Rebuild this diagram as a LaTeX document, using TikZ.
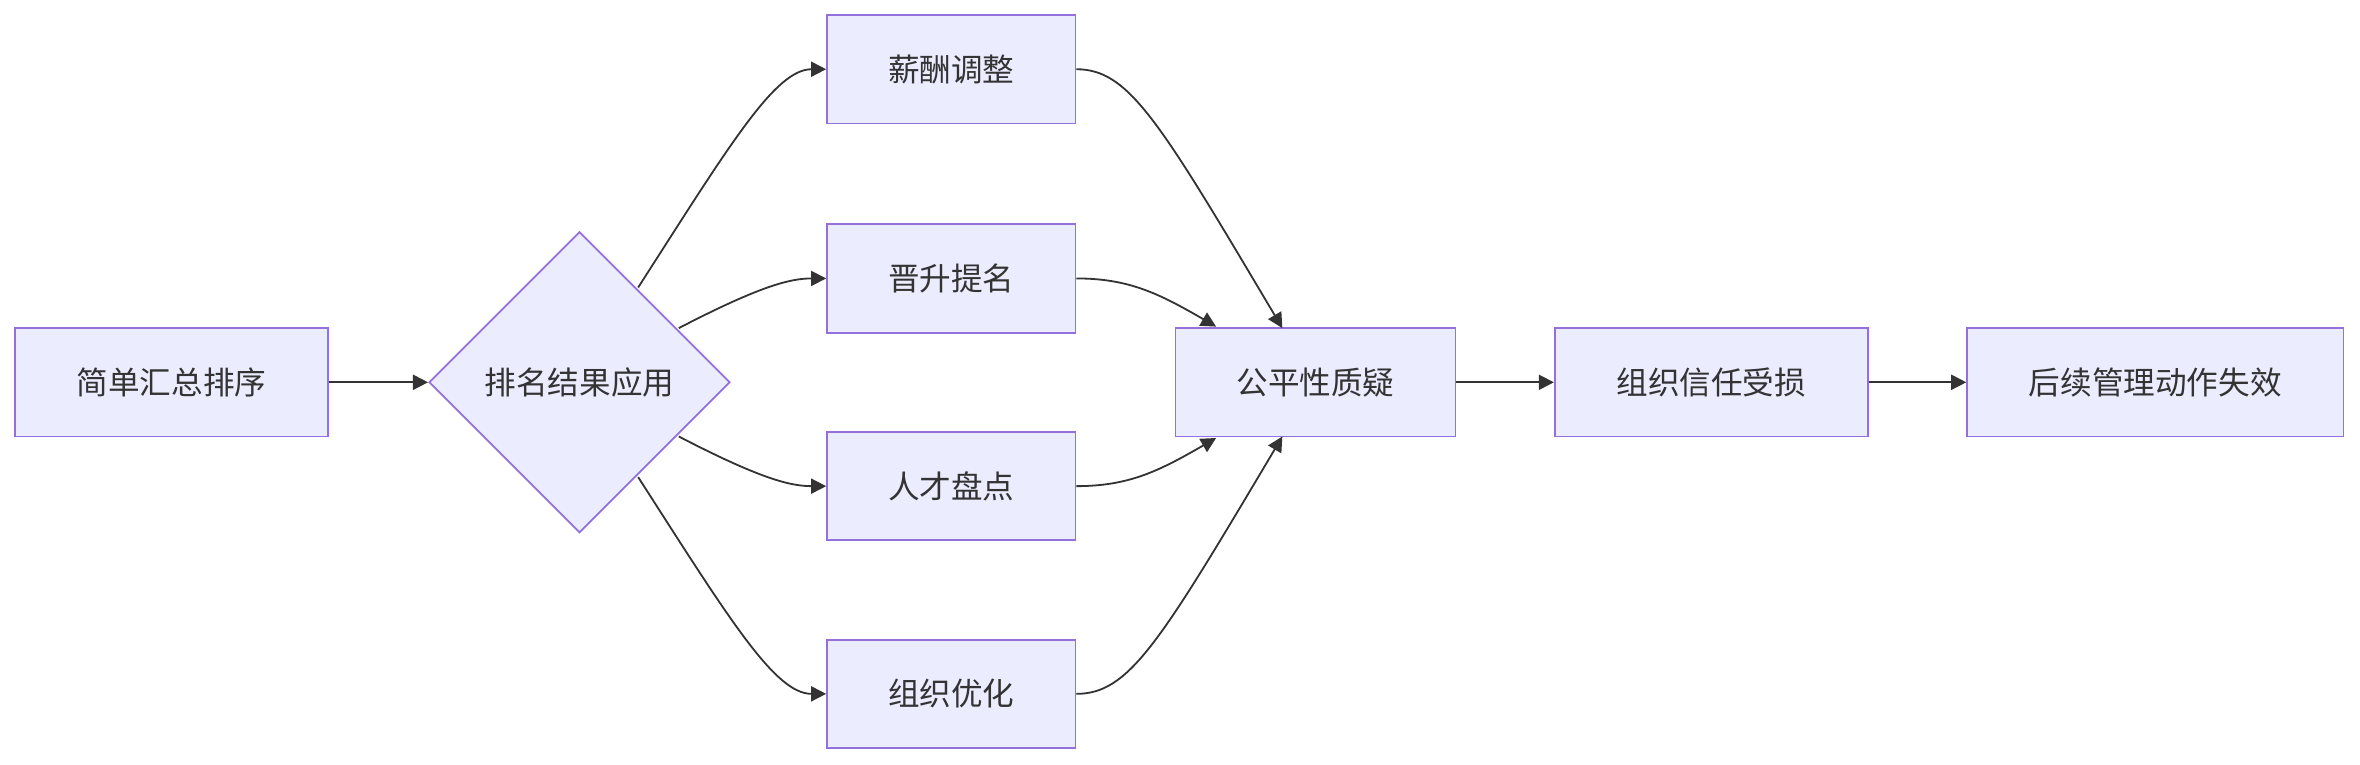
\documentclass[tikz,border=0pt]{standalone}
\usepackage{fontspec}
\newfontfamily\cjk{Noto Sans CJK SC}
\usetikzlibrary{shapes.geometric,arrows.meta}
\definecolor{boxfill}{HTML}{ECECFF}
\definecolor{boxline}{HTML}{9370DB}
\definecolor{linkc}{HTML}{333333}
\tikzset{
  box/.style={draw=boxline, fill=boxfill, line width=0.6pt, minimum height=36pt, inner sep=0pt, font=\cjk\fontsize{10.5}{12}\selectfont, text=linkc},
  decide/.style={box, diamond, minimum width=100pt, minimum height=100pt, aspect=1},
  link/.style={draw=linkc, line width=0.6pt, -{Triangle[length=5pt,width=5pt]}}
}
\begin{document}
\begin{tikzpicture}[x=0.5pt,y=-0.5pt]
  \useasboundingbox (0,0) rectangle (1568,508);

  % nodes
  \node[box, minimum width=104pt] (sort) at (114,254) {简单汇总排序};
  \node[decide] (apply) at (385,254) {排名结果应用};
  \node[box, minimum width=82.5pt] (pay) at (632,46) {薪酬调整};
  \node[box, minimum width=82.5pt] (promo) at (632,185) {晋升提名};
  \node[box, minimum width=82.5pt] (talent) at (632,323) {人才盘点};
  \node[box, minimum width=82.5pt] (org) at (632,461) {组织优化};
  \node[box, minimum width=93pt] (doubt) at (874,254) {公平性质疑};
  \node[box, minimum width=104pt] (trust) at (1137,254) {组织信任受损};
  \node[box, minimum width=125pt] (fail) at (1432,254) {后续管理动作失效};

  % anchor points on the diamond and the doubt box
  \coordinate (a1) at (424,191);
  \coordinate (a2) at (451,218);
  \coordinate (a3) at (451,290);
  \coordinate (a4) at (424,317);
  \coordinate (d1) at (852,218);
  \coordinate (d2) at (808,217);
  \coordinate (d3) at (808,291);
  \coordinate (d4) at (852,290);

  % connectors
  \draw[link] (sort) -- (apply);
  \draw[link] (a1) .. controls (485,96) and (515,46) .. (pay.west);
  \draw[link] (a2) .. controls (505,190) and (525,185) .. (promo.west);
  \draw[link] (a3) .. controls (505,318) and (525,323) .. (talent.west);
  \draw[link] (a4) .. controls (485,412) and (515,461) .. (org.west);
  \draw[link] (pay.east) .. controls (750,46) and (770,80) .. (d1);
  \draw[link] (promo.east) .. controls (750,185) and (770,195) .. (d2);
  \draw[link] (talent.east) .. controls (750,323) and (770,313) .. (d3);
  \draw[link] (org.east) .. controls (750,461) and (770,428) .. (d4);
  \draw[link] (doubt) -- (trust);
  \draw[link] (trust) -- (fail);
\end{tikzpicture}
\end{document}
